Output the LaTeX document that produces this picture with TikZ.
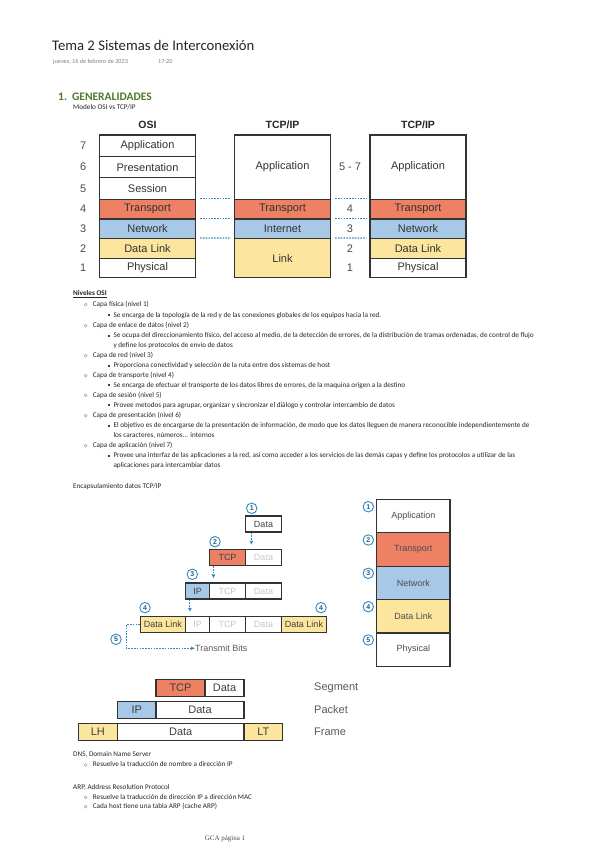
\documentclass[tikz,border=0pt]{standalone}
\usepackage{fontspec}
\setmainfont{Carlito}
\newfontfamily\arial{Liberation Sans}
\newfontfamily\serifpie{Liberation Serif}
\usetikzlibrary{positioning,calc,arrows.meta}

\definecolor{transp}{HTML}{EE8064}
\definecolor{netw}{HTML}{A8C8E8}
\definecolor{dlink}{HTML}{FCE59C}
\definecolor{edge}{HTML}{333333}
\definecolor{dotblue}{HTML}{2F8BBF}
\definecolor{headgreen}{HTML}{4E7A2C}

\newcommand{\itemA}[3]{%
  \node[hollowdot] (#1b) at (85.7,#2) {};
  \node[txt] (#1) at (92.7,#2) {#3};}
\newcommand{\itemB}[3]{%
  \node[sqdot] (#1b) at (109,#2) {};
  \node[txt] (#1) at (113.3,#2) {#3};}

\begin{document}
\begin{tikzpicture}[x=1pt,y=-1pt,
  txt/.style={anchor=west, inner sep=0pt, text height=5pt, text depth=1.5pt,
    font=\fontsize{7.2}{8}\selectfont, text=black!85},
  hollowdot/.style={circle, draw=black!40, line width=0.4pt, inner sep=0pt, minimum size=3pt},
  sqdot/.style={fill=black!75, inner sep=0pt, minimum size=2pt},
  layer/.style={draw=edge, line width=1.2pt, minimum width=96pt, inner sep=0pt,
    font=\arial\fontsize{11}{12}\selectfont, text=black!80},
  hi/.style={minimum height=21.43pt},
  lo/.style={minimum height=19.6pt},
  num/.style={font=\arial\fontsize{11}{12}\selectfont, text=black!70},
  head/.style={font=\arial\bfseries\fontsize{10.5}{12}\selectfont, text=black!85},
  dotline/.style={dotblue, line width=1.3pt, dash pattern=on 1.6pt off 1.2pt},
  cell/.style={draw=edge, line width=1.2pt, minimum height=16pt, inner sep=0pt,
    font=\arial\fontsize{9}{10}\selectfont, text=black!75},
  faded/.style={text=black!22},
  numc/.style={circle, draw=dotblue, line width=0.9pt, fill=white, minimum size=10.5pt,
    inner sep=0pt, font=\arial\bfseries\fontsize{7}{7}\selectfont, text=dotblue!70!black},
  encarrow/.style={dotline, line width=1.1pt, -{Latex[length=4pt,width=4pt]}},
  stk/.style={draw=edge, line width=1.2pt, minimum width=73.3pt, minimum height=33.4pt,
    inner sep=0pt, font=\arial\fontsize{9}{10}\selectfont, text=black!70},
  seg/.style={draw=edge, line width=1.2pt, minimum height=17.5pt, inner sep=0pt,
    font=\arial\fontsize{11}{12}\selectfont, text=black!75},
  unit/.style={anchor=west, font=\arial\fontsize{11}{12}\selectfont, text=black!65}]
\useasboundingbox (0,0) rectangle (599,848);
\fill[white] (0,0) rectangle (599,848);

% page heading
\node[anchor=west, inner sep=0pt, font=\fontsize{14.7}{16}\selectfont, text=black!85] (title) at (52,45)
  {Tema 2 Sistemas de Interconexión};
\node[anchor=west, inner sep=0pt, font=\fontsize{6.2}{7}\selectfont, text=black!50] (date) at (53,62)
  {jueves, 16 de febrero de 2023};
\node[anchor=west, inner sep=0pt, font=\fontsize{6.2}{7}\selectfont, text=black!50] (hour) at (158,62) {17:20};
\node[anchor=west, inner sep=0pt, font=\bfseries\fontsize{11.5}{12}\selectfont, text=headgreen] (gen) at (58,96.7)
  {1.\hspace{5pt}GENERALIDADES};
\node[txt] (modelo) at (73,107.7) {Modelo OSI vs TCP/IP};

% OSI vs TCP/IP
\node[head] (hosi) at (147.5,124.5) {OSI};
\node[head] (hmid) at (282.5,124.5) {TCP/IP};
\node[head] (htr) at (418,124.5) {TCP/IP};

\node[layer,hi] (osi7) at (147.5,145.7) {Application};
\node[layer,hi] (osi6) at (147.5,167.1) {Presentation};
\node[layer,hi] (osi5) at (147.5,188.6) {Session};
\node[layer,lo,fill=transp] (osi4) at (147.5,209.1) {Transport};
\node[layer,lo,fill=netw] (osi3) at (147.5,228.7) {Network};
\node[layer,lo,fill=dlink] (osi2) at (147.5,248.3) {Data Link};
\node[layer,lo] (osi1) at (147.5,267.9) {Physical};
\foreach \n/\y in {7/145.7,6/167.1,5/188.6,4/209.1,3/228.7,2/248.3,1/267.9}
  \node[num] (n\n) at (83.3,\y) {\n};

\node[layer,minimum height=64.3pt] (mid7) at (282.5,167.1) {Application};
\node[layer,lo,fill=transp] (mid4) at (282.5,209.1) {Transport};
\node[layer,lo,fill=netw] (mid3) at (282.5,228.7) {Internet};
\node[layer,minimum height=39.2pt,fill=dlink] (mid1) at (282.5,258.1) {Link};

\node[layer,minimum height=64.3pt] (tr7) at (418,167.1) {Application};
\node[layer,lo,fill=transp] (tr4) at (418,209.1) {Transport};
\node[layer,lo,fill=netw] (tr3) at (418,228.7) {Network};
\node[layer,lo,fill=dlink] (tr2) at (418,248.3) {Data Link};
\node[layer,lo] (tr1) at (418,267.9) {Physical};
\node[num] (m7) at (350,167.1) {5 - 7};
\foreach \n/\y in {4/209.1,3/228.7,2/248.3,1/267.9}
  \node[num] (m\n) at (350,\y) {\n};

\draw[dotline] ([xshift=4pt]osi4.north east) -- ([xshift=-3pt]mid4.north west);
\draw[dotline] ([xshift=4pt]osi3.north east) -- ([xshift=-3pt]mid3.north west);
\draw[dotline] ([xshift=4pt]osi2.north east) -- ([xshift=-3pt]mid1.north west);
\draw[dotline] ([xshift=4pt]mid4.north east) -- ([xshift=-3pt]tr4.north west);
\draw[dotline] ([xshift=4pt]mid3.north east) -- ([xshift=-3pt]tr3.north west);
\draw[dotline] ([xshift=4pt]mid1.north east) -- ([xshift=-3pt]tr2.north west);

% Niveles OSI
\node[txt, font=\bfseries\fontsize{7.2}{8}\selectfont] (niveles) at (73,294) {\underline{Niveles OSI}};
\itemA{c1}{304.7}{Capa física (nivel 1)}
\itemB{c1d}{315.3}{Se encarga de la topología de la red y de las conexiones globales de los equipos hacia la red.}
\itemA{c2}{325.7}{Capa de enlace de datos (nivel 2)}
\itemB{c2d}{335.7}{Se ocupa del direccionamiento físico, del acceso al medio, de la detección de errores, de la distribución de tramas ordenadas, de control de flujo}
\node[txt] (c2e) at (113.3,345.3) {y define los protocolos de envío de datos};
\itemA{c3}{355.7}{Capa de red (nivel 3)}
\itemB{c3d}{365.7}{Proporciona conectividad y selección de la ruta entre dos sistemas de host}
\itemA{c4}{375.7}{Capa de transporte (nivel 4)}
\itemB{c4d}{385.3}{Se encarga de efectuar el transporte de los datos libres de errores, de la maquina origen a la destino}
\itemA{c5}{395.3}{Capa de sesión (nivel 5)}
\itemB{c5d}{405.3}{Provee metodos para agrupar, organizar y sincronizar el diálogo y controlar intercambio de datos}
\itemA{c6}{415.7}{Capa de presentación (nivel 6)}
\itemB{c6d}{425.7}{El objetivo es de encargarse de la presentación de información, de modo que los datos lleguen de manera reconocible independientemente de}
\node[txt] (c6e) at (113.3,435.3) {los caracteres, números... internos};
\itemA{c7}{445.7}{Capa de aplicación (nivel 7)}
\itemB{c7d}{455.7}{Provee una interfaz de las aplicaciones a la red, así como acceder a los servicios de las demás capas y define los protocolos a utilizar de las}
\node[txt] (c7e) at (113.3,465.7) {aplicaciones para intercambiar datos};

% Encapsulamiento
\node[txt] (encap) at (73,486.7) {Encapsulamiento datos TCP/IP};

\node[cell,minimum width=36pt] (d1) at (263.5,524) {Data};
\node[cell,minimum width=36pt,fill=transp] (tcp2) at (227.5,557.5) {TCP};
\node[cell,minimum width=36pt,faded] (d2) at (263.5,557.5) {Data};
\node[cell,minimum width=24pt,fill=netw] (ip3) at (197.5,591) {IP};
\node[cell,minimum width=36pt,faded] (tcp3) at (227.5,591) {TCP};
\node[cell,minimum width=36pt,faded] (d3) at (263.5,591) {Data};
\node[cell,minimum width=45pt,fill=dlink] (dl4) at (163,624.5) {Data Link};
\node[cell,minimum width=24pt,faded] (ip4) at (197.5,624.5) {IP};
\node[cell,minimum width=36pt,faded] (tcp4) at (227.5,624.5) {TCP};
\node[cell,minimum width=36pt,faded] (d4) at (263.5,624.5) {Data};
\node[cell,minimum width=45pt,fill=dlink] (dt4) at (304,624.5) {Data Link};
\node[anchor=west, inner sep=0pt, font=\arial\fontsize{9}{10}\selectfont, text=black!65] (bits) at (195,648.3) {Transmit Bits};

\draw[encarrow] ([xshift=6.5pt]d1.south west) -- ([xshift=6.5pt,yshift=4pt]d2.north west);
\draw[encarrow] ([xshift=4.5pt]tcp2.south west) -- ([xshift=4.5pt,yshift=4pt]tcp3.north west);
\draw[encarrow] ([xshift=5pt]ip3.south west) -- ([xshift=5pt,yshift=4pt]ip4.north west);
\draw[encarrow] (dl4.west) -- ++(-13.5,0) |- (bits.west);

\node[numc] (e1) at (251.7,508.3) {1};
\node[numc] (e2) at (215,541.7) {2};
\node[numc] (e3) at (192.3,574.3) {3};
\node[numc] (e4) at (145,607.7) {4};
\node[numc] (e4b) at (321,607.7) {4};
\node[numc] (e5) at (116,639.3) {5};

% pila de capas
\node[stk] (s1) at (413.3,516) {Application};
\node[stk,fill=transp] (s2) at (413.3,549.4) {Transport};
\node[stk,fill=netw] (s3) at (413.3,582.8) {Network};
\node[stk,fill=dlink] (s4) at (413.3,616.2) {Data Link};
\node[stk] (s5) at (413.3,649.6) {Physical};
\foreach \n/\y in {1/506.7,2/540,3/573.3,4/606.7,5/640}
  \node[numc] (p\n) at (368.3,\y) {\n};

% Segment / Packet / Frame
\node[seg,minimum width=49pt,fill=transp] (stcp) at (180.5,688) {TCP};
\node[seg,minimum width=39pt] (sdata) at (224.5,688) {Data};
\node[seg,minimum width=38.7pt,fill=netw] (pip) at (136.7,710) {IP};
\node[seg,minimum width=88pt] (pdata) at (200,710) {Data};
\node[seg,minimum width=39pt,fill=dlink] (flh) at (97.8,732) {LH};
\node[seg,minimum width=126.7pt] (fdata) at (180.7,732) {Data};
\node[seg,minimum width=38.7pt,fill=dlink] (flt) at (263.3,732) {LT};
\node[unit] (usg) at (310.7,688) {Segment};
\node[unit] (upk) at (310.7,710) {Packet};
\node[unit] (ufr) at (310.7,732) {Frame};

% DNS / ARP
\node[txt] (dns) at (73,755) {DNS, Domain Name Server};
\node[hollowdot] (dns1b) at (85.7,765) {};
\node[txt] (dns1) at (92.7,765) {Resuelve la traducción de nombre a dirección IP};
\node[txt] (arp) at (73,787.3) {ARP, Address Resolution Protocol};
\itemA{arp1}{797.3}{Resuelve la traducción de dirección IP a dirección MAC}
\itemA{arp2}{806.7}{Cada host tiene una tabla ARP (cache ARP)}

\node[font=\serifpie\fontsize{7}{8}\selectfont, text=black!70] (pie) at (225,839) {GCA página 1};
\end{tikzpicture}
\end{document}
